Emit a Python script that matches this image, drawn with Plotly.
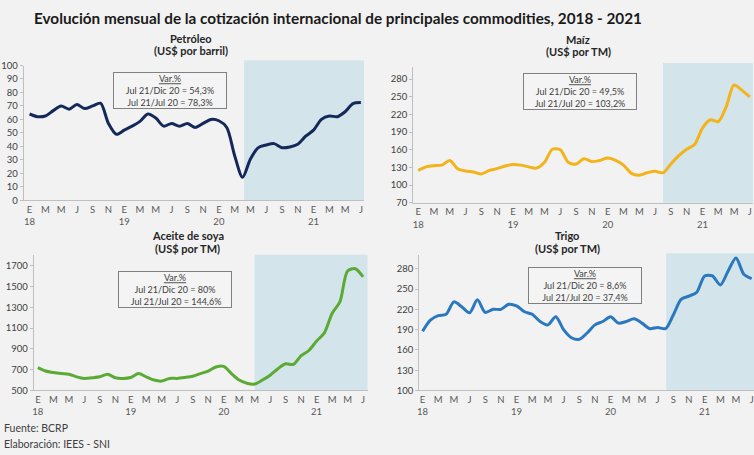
import plotly.graph_objects as go

W, H = 754, 455

# ---------------- data (Jan 2018 .. Jul 2021, monthly) ----------------
month_letters = ["E", "F", "M", "A", "M", "J", "J", "A", "S", "O", "N", "D"]
years = ["18", "19", "20", "21"]
n_months = 43

petroleo = [64, 62, 62.5, 66.5, 70, 67.6, 71, 68, 70, 72, 57, 49,
            52, 55, 58.5, 64, 61, 55, 57, 55, 57, 54, 57, 60,
            59, 54, 33, 17, 30.6, 39, 41, 42, 39, 39.5, 41.5, 47.5,
            52, 60, 62.5, 62, 65.7, 71.7, 72.5]
maiz = [125, 131, 133, 134, 142, 128, 124, 122.5, 119, 125, 128, 132.5,
        135, 134, 131, 129, 139, 161, 160, 139, 136, 145, 140, 142,
        146, 142, 134, 120, 117, 121, 123.5, 121, 136, 150, 161, 169,
        197, 211, 208, 233, 270, 261, 250]
aceite = [720, 687, 672, 662, 656, 631, 616, 622, 631, 656, 622, 616,
          625, 662, 631, 600, 590, 616, 616, 625, 637, 662, 687, 725,
          731, 662, 600, 569, 562, 600, 647, 709, 756, 750, 834, 884,
          975, 1053, 1240, 1350, 1647, 1669, 1590]
trigo = [187.5, 204, 210.7, 212.6, 231, 223.7, 215, 234, 215.5, 220, 220, 227.5,
         225, 216.4, 212.6, 202, 197, 209, 190, 178, 175.5, 185, 197, 202,
         209, 199.6, 202, 206, 199.6, 191.4, 193.3, 191.4, 211.6, 234.7, 239.6, 245.3,
         269.4, 269.4, 256, 276.6, 296, 272, 265.5]

titles = [("Petróleo", "(US$ por barril)"), ("Maíz", "(US$ por TM)"),
          ("Aceite de soya", "(US$ por TM)"), ("Trigo", "(US$ por TM)")]
var_texts = [
    "<u>Var.%</u><br>Jul 21/Dic 20 = 54,3%<br>Jul 21/Jul 20 = 78,3%",
    "<u>Var.%</u><br>Jul 21/Dic 20 = 49,5%<br>Jul 21/Jul 20 = 103,2%",
    "<u>Var.%</u><br>Jul 21/Dic 20 = 80%<br> Jul 21/Jul 20 = 144,6%",
    "<u>Var.%</u><br>Jul 21/Dic 20 = 8,6%<br>Jul 21/Jul 20 = 37,4%",
]
shade_start = [27.2, 31.0, 28.0, 31.1]   # month index where shaded period begins
y_ticks = [list(range(0, 101, 10)), list(range(70, 281, 30)),
           list(range(500, 1701, 200)), list(range(100, 281, 30))]
y_ranges = [[0, 100], [70, 300], [500, 1800], [100, 300]]
series = [petroleo, maiz, aceite, trigo]
colors = ["#14295a", "#f2b31b", "#5aaa35", "#2a78bf"]

# ---------------- layout geometry (pixels) ----------------
panels = [
    dict(px=(21.7, 363.0), py=(199.0, 61.0), xr=[-0.75, 42.4], shade_top=55.7,
         title_y=(33, 46), title_x=190, box=(168.5, 86.7)),
    dict(px=(412.3, 753.0), py=(201.7, 62.9), xr=[-0.63, 42.4], shade_top=58.3,
         title_y=(34, 47), title_x=578, box=(579.5, 87.5)),
    dict(px=(31.7, 366.7), py=(394.0, 255.3), xr=[-0.55, 42.6], shade_top=255.0,
         title_y=(235.5, 249), title_x=186, box=(173.7, 290.5)),
    dict(px=(418.3, 754.0), py=(394.0, 255.4), xr=[-0.43, 42.3], shade_top=253.3,
         title_y=(235, 249), title_x=567, box=(584.7, 286.7)),
]

FONT = "Lato, Open Sans, sans-serif"
x_idx = list(range(n_months))
tickvals = list(range(0, n_months, 2))
ticktext = []
for v in tickvals:
    m = v % 12
    t = month_letters[m]
    if m == 0:
        t += "<br>" + years[v // 12]
    ticktext.append(t)

fig = go.Figure()
layout = dict(
    width=W, height=H, margin=dict(l=0, r=0, t=0, b=0),
    paper_bgcolor="#f2f2f2", plot_bgcolor="#f2f2f2",
    showlegend=False, font=dict(family=FONT, color="#404040"),
    shapes=[], annotations=[],
)

def fx(p):
    return p / W

def fy(p):
    return 1 - p / H

for i, (p, ys) in enumerate(zip(panels, series)):
    xa = "xaxis" if i == 0 else f"xaxis{i+1}"
    ya = "yaxis" if i == 0 else f"yaxis{i+1}"
    xr = "x" if i == 0 else f"x{i+1}"
    yr = "y" if i == 0 else f"y{i+1}"
    fig.add_trace(go.Scatter(
        x=x_idx, y=ys, mode="lines", xaxis=xr, yaxis=yr,
        line=dict(color=colors[i], width=3, shape="spline", smoothing=0.8),
        hoverinfo="skip"))
    layout[xa] = dict(
        domain=[fx(p["px"][0]), fx(p["px"][1])], anchor=yr, range=p["xr"],
        tickvals=tickvals, ticktext=ticktext, showgrid=False, zeroline=False,
        showline=True, linecolor="#bfbfbf", linewidth=1,
        ticks="", tickfont=dict(size=9.5, color="#595959", family=FONT),
        fixedrange=True)
    layout[ya] = dict(
        domain=[fy(p["py"][0]), fy(p["py"][1])], anchor=xr, range=y_ranges[i],
        tickvals=y_ticks[i], showgrid=False, zeroline=False,
        showline=True, linecolor="#bfbfbf", linewidth=1,
        ticks="outside", ticklen=3, tickcolor="#bfbfbf",
        tickfont=dict(size=9.5, color="#404040", family=FONT),
        fixedrange=True)
    layout["shapes"].append(dict(
        type="rect", xref=xr, yref="paper", x0=shade_start[i], x1=p["xr"][1],
        y0=fy(p["py"][0]), y1=fy(p["shade_top"]), fillcolor="#d3e4ea",
        line=dict(width=0), layer="below"))
    for line_txt, ty in zip(titles[i], p["title_y"]):
        layout["annotations"].append(dict(
            text="<b>" + line_txt + "</b>", xref="paper", yref="paper",
            x=fx(p["title_x"]), y=fy(ty),
            xanchor="center", yanchor="middle", showarrow=False,
            font=dict(size=11, color="#262626", family=FONT)))
    layout["annotations"].append(dict(
        text=var_texts[i], xref="paper", yref="paper",
        x=fx(p["box"][0]), y=fy(p["box"][1]), xanchor="center", yanchor="middle",
        showarrow=False, width=110, height=33, borderpad=1,
        bordercolor="#808080", borderwidth=1, bgcolor="#f4f4f4",
        font=dict(size=9, color="#404040", family=FONT)))

layout["annotations"] += [
    dict(text="<b>Evolución mensual de la cotización internacional de principales commodities, 2018 - 2021</b>",
         xref="paper", yref="paper", x=fx(337), y=fy(12), xanchor="center", yanchor="middle",
         showarrow=False, font=dict(size=15.3, color="#1a1a1a", family=FONT)),
    dict(text="Fuente: BCRP", xref="paper", yref="paper", x=0, y=fy(432),
         xanchor="left", yanchor="middle", showarrow=False,
         font=dict(size=10.5, color="#404040", family=FONT)),
    dict(text="Elaboración: IEES - SNI", xref="paper", yref="paper", x=0, y=fy(449),
         xanchor="left", yanchor="middle", showarrow=False,
         font=dict(size=10.5, color="#404040", family=FONT)),
]

fig.update_layout(**layout)
fig.write_html("out.html", config={"displayModeBar": False})
